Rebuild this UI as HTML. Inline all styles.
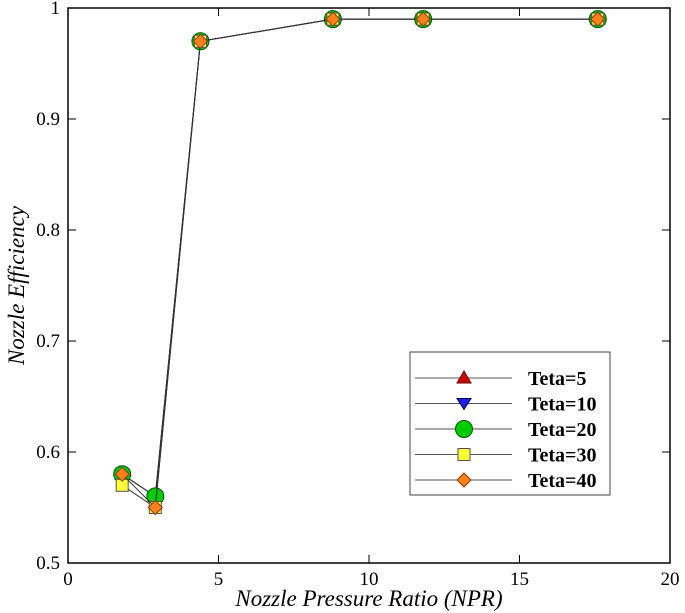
<!DOCTYPE html>
<html><head><meta charset="utf-8"><style>
body{margin:0;background:#fff;}
svg{display:block;font-family:"Liberation Serif",serif;}
</style></head><body>
<svg id="chart" width="685" height="613"></svg>
<script>
const xValues=[1.8,2.9,4.4,8.8,11.8,17.6];
const teta5=[0.58,0.56,0.97,0.99,0.99,0.99];
const teta10=[0.58,0.56,0.97,0.99,0.99,0.99];
const teta20=[0.58,0.56,0.97,0.99,0.99,0.99];
const teta30=[0.57,0.55,0.97,0.99,0.99,0.99];
const teta40=[0.58,0.55,0.97,0.99,0.99,0.99];
const xTicks=[0,5,10,15,20];
const yTicks=[0.5,0.6,0.7,0.8,0.9,1];
const seriesNames=["Teta=5","Teta=10","Teta=20","Teta=30","Teta=40"];

const L=68,R=670,T=8,B=563;
const sx=v=>L+(v-0)/(20-0)*(R-L);
const sy=v=>B-(v-0.5)/(1-0.5)*(B-T);
const NS="http://www.w3.org/2000/svg";
const svg=document.getElementById('chart');
function mk(tag,attrs,parent){const e=document.createElementNS(NS,tag);for(const k in attrs)e.setAttribute(k,attrs[k]);(parent||svg).appendChild(e);return e;}

const frame=mk('rect',{x:L,y:T,width:R-L,height:B-T,fill:'none',stroke:'#000','stroke-width':1.5});



xTicks.forEach(t=>{
  const x=sx(t);
  const tk=mk('line',{x1:x,x2:x,y1:B,y2:B-8,stroke:'#000','stroke-width':1});
  
  
  const tt=mk('line',{x1:x,x2:x,y1:T,y2:T+8,stroke:'#000','stroke-width':1});
  
  
  const lb=mk('text',{x:x,y:B+22,'text-anchor':'middle','font-size':19});
  lb.textContent=t;
  
  
});
yTicks.forEach(t=>{
  const y=sy(t);
  const tk=mk('line',{x1:L,x2:L+8,y1:y,y2:y,stroke:'#000','stroke-width':1});
  
  
  const tr=mk('line',{x1:R,x2:R-8,y1:y,y2:y,stroke:'#000','stroke-width':1});
  
  
  const lb=mk('text',{x:L-8,y:y+6,'text-anchor':'end','font-size':19});
  lb.textContent=t;
  
  
});

const xt=mk('text',{x:(L+R)/2,y:606,'text-anchor':'middle','font-size':23,'font-style':'italic'});
xt.textContent='Nozzle Pressure Ratio (NPR)';


const yt=mk('text',{x:0,y:0,'text-anchor':'middle','font-size':23,'font-style':'italic',transform:`translate(24,${(T+B)/2}) rotate(-90)`});
yt.textContent='Nozzle Efficiency';



function marker(type,x,y,g){
  if(type===0)return mk('polygon',{points:`${x},${y-7} ${x-7},${y+5} ${x+7},${y+5}`,fill:'#d00000',stroke:'#600',"stroke-width":1},g);
  if(type===1)return mk('polygon',{points:`${x},${y+6} ${x-7},${y-5} ${x+7},${y-5}`,fill:'#2020e0',stroke:'#006',"stroke-width":1},g);
  if(type===2)return mk('circle',{cx:x,cy:y,r:8.5,fill:'#00cc00',stroke:'#050',"stroke-width":1},g);
  if(type===3)return mk('rect',{x:x-6,y:y-6,width:12,height:12,fill:'#ffff33',stroke:'#555',"stroke-width":1},g);
  return mk('polygon',{points:`${x},${y-7} ${x+7},${y} ${x},${y+7} ${x-7},${y}`,fill:'#ff7f1a',stroke:'#8a3d00',"stroke-width":1},g);
}
const allSeries=[teta5,teta10,teta20,teta30,teta40];
allSeries.forEach((s,i)=>{
  const g=mk('g',{});
  
  
  const ln=mk('polyline',{points:s.map((v,j)=>sx(xValues[j])+','+sy(v)).join(' '),fill:'none',stroke:'#333','stroke-width':1},g);
  
  
  s.forEach((v,j)=>{
    const m=marker(i,sx(xValues[j]),sy(v),g);
    
    
  });
});

const lg=mk('g',{});


const lbox=mk('rect',{x:410,y:352,width:200,height:143,fill:'#fff',stroke:'#444','stroke-width':1},lg);


seriesNames.forEach((n,i)=>{
  const y=378+i*25.5;
  const e=mk('g',{},lg);
  
  
  mk('line',{x1:415,x2:512,y1:y,y2:y,stroke:'#555','stroke-width':1},e);
  marker(i,464,y,e);
  const t=mk('text',{x:528,y:y+7,'font-size':20,'font-weight':'bold'},e);
  t.textContent=n;
});
</script>
</body></html>
